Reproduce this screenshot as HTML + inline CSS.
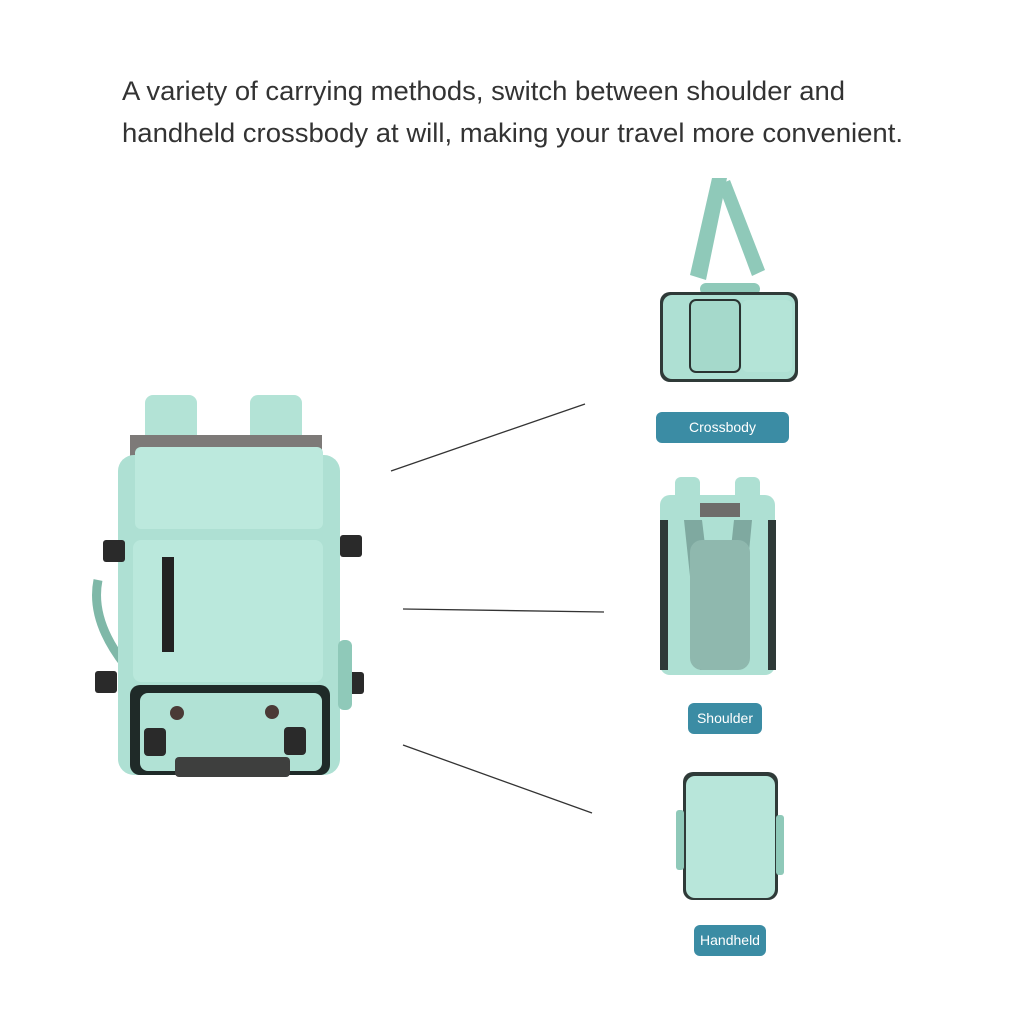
<!DOCTYPE html>
<html><head><meta charset="utf-8"><style>
html,body{margin:0;padding:0;background:#fff}
svg{display:block}
</style></head><body>
<svg width="1024" height="1024" viewBox="0 0 1024 1024" xmlns="http://www.w3.org/2000/svg">
<rect width="1024" height="1024" fill="#fff"/>
<text x="122" y="100" textLength="723" lengthAdjust="spacingAndGlyphs" font-family="Liberation Sans, sans-serif" font-size="27" fill="#333">A variety of carrying methods, switch between shoulder and</text>
<text x="122" y="142" textLength="781" lengthAdjust="spacingAndGlyphs" font-family="Liberation Sans, sans-serif" font-size="27" fill="#333">handheld crossbody at will, making your travel more convenient.</text>

<line x1="391" y1="471" x2="585" y2="404" stroke="#333" stroke-width="1.3"/>
<line x1="403" y1="609" x2="604" y2="612" stroke="#333" stroke-width="1.3"/>
<line x1="403" y1="745" x2="592" y2="813" stroke="#333" stroke-width="1.3"/>

<g>
<rect x="145" y="395" width="52" height="50" rx="8" fill="#b3e3d6"/>
<rect x="250" y="395" width="52" height="50" rx="8" fill="#b3e3d6"/>
<rect x="130" y="435" width="192" height="40" fill="#7d7a78"/>
<path d="M98 580 Q90 620 125 665" stroke="#7fb8a8" stroke-width="9" fill="none"/>
<rect x="118" y="455" width="222" height="320" rx="16" fill="#aee0d3"/>
<rect x="135" y="447" width="188" height="82" rx="6" fill="#bce9dd"/>
<rect x="133" y="540" width="190" height="142" rx="8" fill="#bae8dc"/>
<rect x="162" y="557" width="12" height="95" fill="#222"/>
<rect x="130" y="685" width="200" height="90" rx="10" fill="#1f2a28"/>
<rect x="140" y="693" width="182" height="78" rx="8" fill="#b1e2d5"/>
<rect x="175" y="757" width="115" height="20" rx="4" fill="#3e3f3e"/>
<circle cx="177" cy="713" r="7" fill="#4a3a36"/>
<circle cx="272" cy="712" r="7" fill="#4a3a36"/>
<rect x="144" y="728" width="22" height="28" rx="4" fill="#2a2a2a"/>
<rect x="284" y="727" width="22" height="28" rx="4" fill="#2a2a2a"/>
<rect x="103" y="540" width="22" height="22" rx="3" fill="#2a2a2a"/>
<rect x="340" y="535" width="22" height="22" rx="3" fill="#2a2a2a"/>
<rect x="95" y="671" width="22" height="22" rx="3" fill="#2a2a2a"/>
<rect x="342" y="672" width="22" height="22" rx="3" fill="#2a2a2a"/>
<rect x="338" y="640" width="14" height="70" rx="6" fill="#8fc9b9"/>
</g>

<g>
<path d="M690 275 L712 178 L727 178 L706 280" fill="#8fc9b9"/>
<path d="M730 180 L765 270 L752 276 L718 185" fill="#8fc9b9"/>
<rect x="700" y="283" width="60" height="12" rx="6" fill="#8fc9b9"/>
<rect x="660" y="292" width="138" height="90" rx="10" fill="#2f3a38"/>
<rect x="663" y="295" width="132" height="84" rx="9" fill="#aee0d3"/>
<rect x="690" y="300" width="50" height="72" rx="6" fill="#a5d9cb" stroke="#2a3331" stroke-width="2"/>
<rect x="742" y="300" width="50" height="72" rx="6" fill="#b4e4d7"/>
</g>
<rect x="656" y="412" width="133" height="31" rx="6" fill="#3b8ca4"/>
<text x="722.5" y="432" text-anchor="middle" font-family="Liberation Sans, sans-serif" font-size="14" fill="#fff">Crossbody</text>

<g>
<rect x="675" y="477" width="25" height="30" rx="6" fill="#aee0d3"/>
<rect x="735" y="477" width="25" height="30" rx="6" fill="#aee0d3"/>
<rect x="660" y="495" width="115" height="180" rx="10" fill="#aee0d3"/>
<rect x="700" y="503" width="40" height="14" fill="#6e6c6a"/>
<path d="M684 520 L700 670 L720 670 L702 520 Z" fill="#7fa9a0"/>
<path d="M752 520 L738 670 L718 670 L734 520 Z" fill="#7fa9a0"/>
<rect x="690" y="540" width="60" height="130" rx="12" fill="#8fb8ae"/>
<rect x="660" y="520" width="8" height="150" fill="#2f3a38"/>
<rect x="768" y="520" width="8" height="150" fill="#2f3a38"/>
</g>
<rect x="688" y="703" width="74" height="31" rx="6" fill="#3b8ca4"/>
<text x="725" y="723" text-anchor="middle" font-family="Liberation Sans, sans-serif" font-size="14" fill="#fff">Shoulder</text>

<g>
<rect x="683" y="772" width="95" height="128" rx="10" fill="#2f3a38"/>
<rect x="686" y="776" width="89" height="122" rx="9" fill="#b8e6da"/>
<rect x="676" y="810" width="8" height="60" rx="3" fill="#8fc9b9"/>
<rect x="776" y="815" width="8" height="60" rx="3" fill="#8fc9b9"/>
</g>
<rect x="694" y="925" width="72" height="31" rx="6" fill="#3b8ca4"/>
<text x="730" y="945" text-anchor="middle" font-family="Liberation Sans, sans-serif" font-size="14" fill="#fff">Handheld</text>
</svg>
</body></html>
